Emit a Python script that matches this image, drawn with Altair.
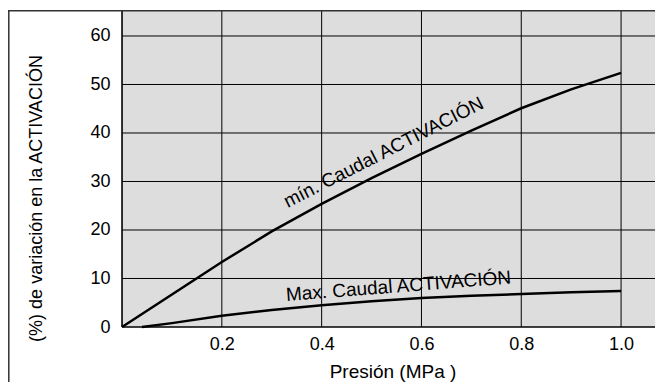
import altair as alt
import pandas as pd

# Curve data
x_vals = [0.0, 0.1, 0.2, 0.3, 0.4, 0.5, 0.6, 0.7, 0.8, 0.9, 1.0]
min_vals = [0.0, 6.7, 13.4, 19.7, 25.4, 30.7, 35.7, 40.5, 45.1, 49.0, 52.4]
max_x = [0.04, 0.1, 0.2, 0.3, 0.4, 0.5, 0.6, 0.7, 0.8, 0.9, 1.0]
max_vals = [0.0, 0.8, 2.3, 3.5, 4.5, 5.3, 6.0, 6.45, 6.8, 7.15, 7.4]

x_ticks = [0.2, 0.4, 0.6, 0.8, 1.0]
y_ticks = [0, 10, 20, 30, 40, 50, 60]

label_text = ["mín. Caudal ACTIVACIÓN", "Max. Caudal ACTIVACIÓN"]
label_x = [0.524, 0.554]
label_y = [36.0, 8.4]
label_angle = [333, 355.5]

# full view domain (includes the white margin inside the figure frame)
x_domain = [-0.2285, 1.068]
y_domain = [-11.34, 65.36]
x_max = x_domain[1]
y_max = y_domain[1]

FONT = "Liberation Sans"
W, H = 647, 372

curves = pd.DataFrame({"p": x_vals, "v": min_vals, "s": ["min"] * len(x_vals)})
curves = pd.concat(
    [curves, pd.DataFrame({"p": max_x, "v": max_vals, "s": ["max"] * len(max_x)})],
    ignore_index=True,
)
labels = pd.DataFrame({"t": label_text, "p": label_x, "v": label_y, "a": label_angle})
grey = pd.DataFrame({"p": [0.0], "p2": [x_max], "v": [0.0], "v2": [y_max]})
vgrid = pd.DataFrame({"p": x_ticks, "v": [0.0] * len(x_ticks), "v2": [y_max] * len(x_ticks)})
hgrid = pd.DataFrame({"v": y_ticks[1:], "p": [0.0] * 6, "p2": [x_max] * 6})
yline = pd.DataFrame({"p": [0.0], "v": [0.0], "v2": [y_max]})
xline = pd.DataFrame({"v": [0.0], "p": [0.0], "p2": [x_max]})
frame_l = pd.DataFrame({"p": [x_domain[0] + 0.0016], "v": [y_domain[0]], "v2": [y_max]})
frame_t = pd.DataFrame({"v": [y_max - 0.15], "p": [x_domain[0]], "p2": [x_max]})

xscale = alt.Scale(domain=x_domain, nice=False, zero=False)
yscale = alt.Scale(domain=y_domain, nice=False, zero=False)

xaxis = alt.Axis(
    values=x_ticks, format=".1f", grid=False, ticks=False, domain=False,
    offset=-(H - 317),
    labelFont=FONT, labelFontSize=18, labelColor="#000000", labelPadding=8,
    title="Presión (MPa )", titleFont=FONT, titleFontSize=19, titleFontWeight="normal",
    titleColor="#000000", titleY=50, titleX=384.5, titleAlign="center",
    titleBaseline="alphabetic",
)
yaxis = alt.Axis(
    values=y_ticks, grid=False, ticks=False, domain=False,
    offset=-114,
    labelFont=FONT, labelFontSize=18, labelColor="#000000", labelPadding=12,
    title="(%) de variación en la ACTIVACIÓN", titleFont=FONT, titleFontSize=18,
    titleFontWeight="normal", titleColor="#000000",
    titleAngle=270, titleAlign="center", titleBaseline="middle",
    titleX=-86, titleY=188,
)

X = lambda f: alt.X(f, type="quantitative", scale=xscale, axis=xaxis)
Y = lambda f: alt.Y(f, type="quantitative", scale=yscale, axis=yaxis)

bg = alt.Chart(grey).mark_rect(color="#dddddd").encode(
    x=X("p"), x2="p2", y=Y("v"), y2="v2"
)
vg = alt.Chart(vgrid).mark_rule(color="#000000", strokeWidth=1).encode(
    x=X("p"), y=Y("v"), y2="v2"
)
hg = alt.Chart(hgrid).mark_rule(color="#000000", strokeWidth=1).encode(
    y=Y("v"), x=X("p"), x2="p2"
)
ya = alt.Chart(yline).mark_rule(color="#000000", strokeWidth=1.6).encode(
    x=X("p"), y=Y("v"), y2="v2"
)
xa = alt.Chart(xline).mark_rule(color="#000000", strokeWidth=1.6).encode(
    y=Y("v"), x=X("p"), x2="p2"
)

lines = alt.Chart(curves).mark_line(color="#000000", strokeWidth=2.5).encode(
    x=X("p"), y=Y("v"), detail="s:N"
)

texts = alt.Chart(labels).mark_text(
    font=FONT, fontSize=19, color="#000000", align="center", baseline="middle"
).encode(
    x=X("p"), y=Y("v"), text="t:N", angle=alt.Angle("a:Q", scale=None)
)

fl = alt.Chart(frame_l).mark_rule(color="#333333", strokeWidth=1.5).encode(
    x=X("p"), y=Y("v"), y2="v2"
)
ft = alt.Chart(frame_t).mark_rule(color="#333333", strokeWidth=1.5).encode(
    y=Y("v"), x=X("p"), x2="p2"
)

chart = (
    alt.layer(bg, vg, hg, ya, xa, lines, texts, fl, ft)
    .properties(
        width=W,
        height=H,
        autosize=alt.AutoSizeParams(type="none"),
        padding={"left": 0, "top": 2, "right": 0, "bottom": 0},
    )
    .configure_view(stroke=None)
    .configure(background="#ffffff")
)

chart.save("out.html", embed_options={"renderer": "svg", "actions": False})
